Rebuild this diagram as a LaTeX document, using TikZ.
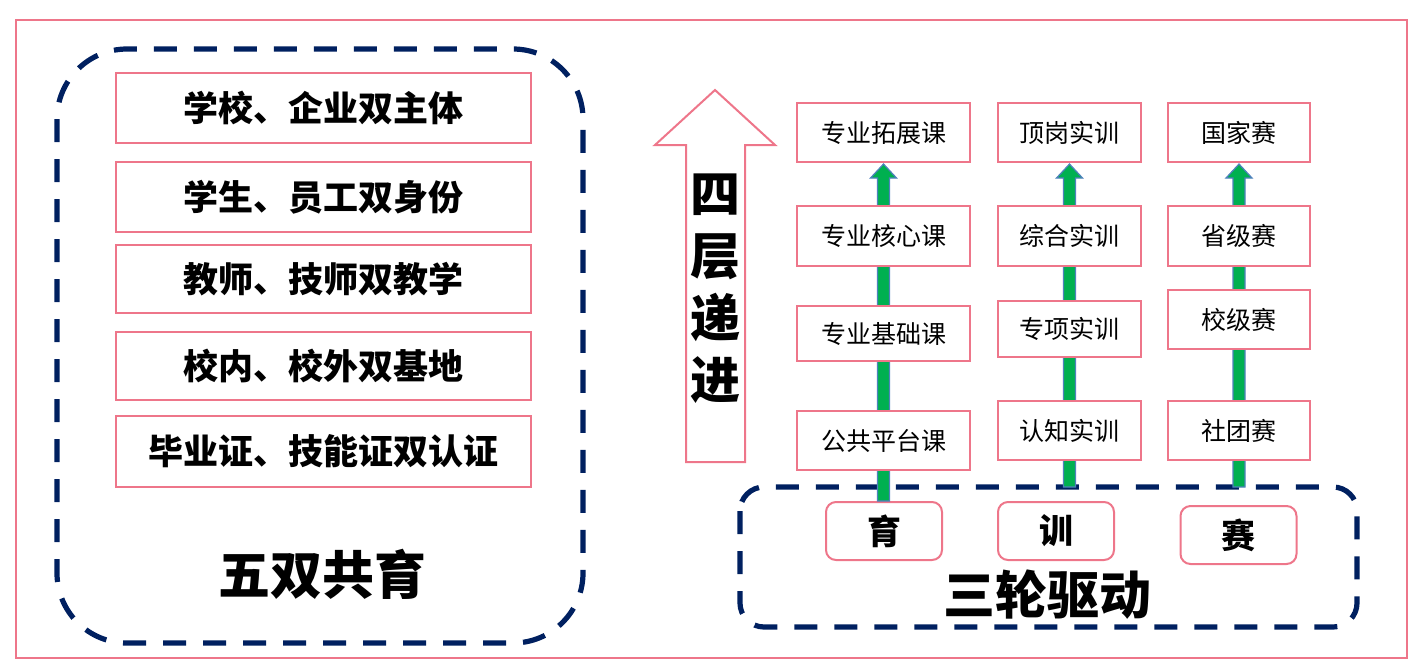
\documentclass[tikz,border=0pt]{standalone}
\usepackage{fontspec}
\newfontfamily\cjk{Noto Sans CJK SC}
\usetikzlibrary{calc}
\definecolor{pinkb}{RGB}{238,118,138}
\definecolor{navy}{RGB}{0,32,96}
\definecolor{gr}{RGB}{0,176,80}
\definecolor{bl}{RGB}{79,129,189}
\begin{document}
\begin{tikzpicture}[x=0.5pt,y=-0.5pt,
  lbox/.style={draw=pinkb,line width=1pt,fill=white,minimum width=207.5pt,inner sep=0pt,font=\cjk\bfseries\fontsize{17.5}{20}\selectfont},
  rbox/.style={draw=pinkb,line width=1pt,fill=white,inner sep=0pt,font=\cjk\fontsize{12.5}{15}\selectfont},
  wbox/.style={draw=pinkb,line width=1pt,fill=white,rounded corners=5pt,minimum width=58pt,minimum height=29pt,inner sep=0pt,font=\cjk\bfseries\fontsize{17}{20}\selectfont},
  dashbox/.style={draw=navy,line width=2.6pt,dash pattern=on 11.5pt off 8.5pt},
  title/.style={inner sep=0pt,font=\cjk\bfseries\fontsize{26}{30}\selectfont},
  garrowstyle/.style={fill=gr,draw=bl,line width=0.6pt}
]
\useasboundingbox (0,0) rectangle (1424,671);
% outer frame
\draw[pinkb,line width=1pt] (16,20) rectangle (1407,658);
% left dashed group
\draw[dashbox,rounded corners=35pt] (57,49) rectangle (583,643);
\node[lbox,minimum height=35pt] (l1) at (323.5,107.5) {学校、企业双主体};
\node[lbox,minimum height=35pt] (l2) at (323.5,197) {学生、员工双身份};
\node[lbox,minimum height=34pt] (l3) at (323.5,279) {教师、技师双教学};
\node[lbox,minimum height=34pt] (l4) at (323.5,366) {校内、校外双基地};
\node[lbox,minimum height=35.5pt] (l5) at (323.5,451.5) {毕业证、技能证双认证};
\node[title] (t1) at (322,574) {五双共育};
% big upward arrow
\draw[pinkb,line width=1pt,fill=white] (686,462) -- (686,145) -- (655,145) -- (715,90) -- (775,145) -- (745,145) -- (745,462) -- cycle;
\node[title,align=center,font=\cjk\bfseries\fontsize{25}{31}\selectfont] (t2) at (715.5,289) {四\\层\\递\\进};
% bottom dashed group
\draw[dashbox,rounded corners=12pt] (740,487) rectangle (1357,627);
\coordinate (e2) at (1069.5,487);
\coordinate (e3) at (1239,487);
\node[wbox] (yu) at (884,531) {育};
\node[wbox] (xun) at (1056,531) {训};
\node[wbox] (sai) at (1238.5,535) {赛};
\node[title] (t3) at (1047,595) {三轮驱动};
% top boxes (for arrow targets)
\node[rbox,minimum width=86.5pt,minimum height=29.5pt] (a1) at (883.5,132.5) {专业拓展课};
\node[rbox,minimum width=71.5pt,minimum height=29.5pt] (b1) at (1069.5,132.5) {顶岗实训};
\node[rbox,minimum width=71pt,minimum height=29.5pt] (c1) at (1239,132.5) {国家赛};
% green arrows
\foreach \s/\t in {yu/a1,e2/b1,e3/c1}{
  \path let \p1=(\s.north), \p2=(\t.south) in
    [garrowstyle] (\x2-3pt,\y1) -- (\x2-3pt,\y2-7.5pt) -- (\x2-6.5pt,\y2-7.5pt) -- (\x2,\y2-0.5pt)
    -- (\x2+6.5pt,\y2-7.5pt) -- (\x2+3pt,\y2-7.5pt) -- (\x2+3pt,\y1) -- cycle;
}
% remaining boxes
\node[rbox,minimum width=86.5pt,minimum height=30pt] (a2) at (883.5,236) {专业核心课};
\node[rbox,minimum width=86.5pt,minimum height=27.5pt] (a3) at (883.5,333.5) {专业基础课};
\node[rbox,minimum width=86.5pt,minimum height=29.5pt] (a4) at (883.5,440.5) {公共平台课};
\node[rbox,minimum width=71.5pt,minimum height=30pt] (b2) at (1069.5,236) {综合实训};
\node[rbox,minimum width=71.5pt,minimum height=28pt] (b3) at (1069.5,329) {专项实训};
\node[rbox,minimum width=71.5pt,minimum height=29.5pt] (b4) at (1069.5,430.5) {认知实训};
\node[rbox,minimum width=71pt,minimum height=30pt] (c2) at (1239,236) {省级赛};
\node[rbox,minimum width=71pt,minimum height=29.5pt] (c3) at (1239,319.5) {校级赛};
\node[rbox,minimum width=71pt,minimum height=29.5pt] (c4) at (1239,430.5) {社团赛};
\end{tikzpicture}
\end{document}
